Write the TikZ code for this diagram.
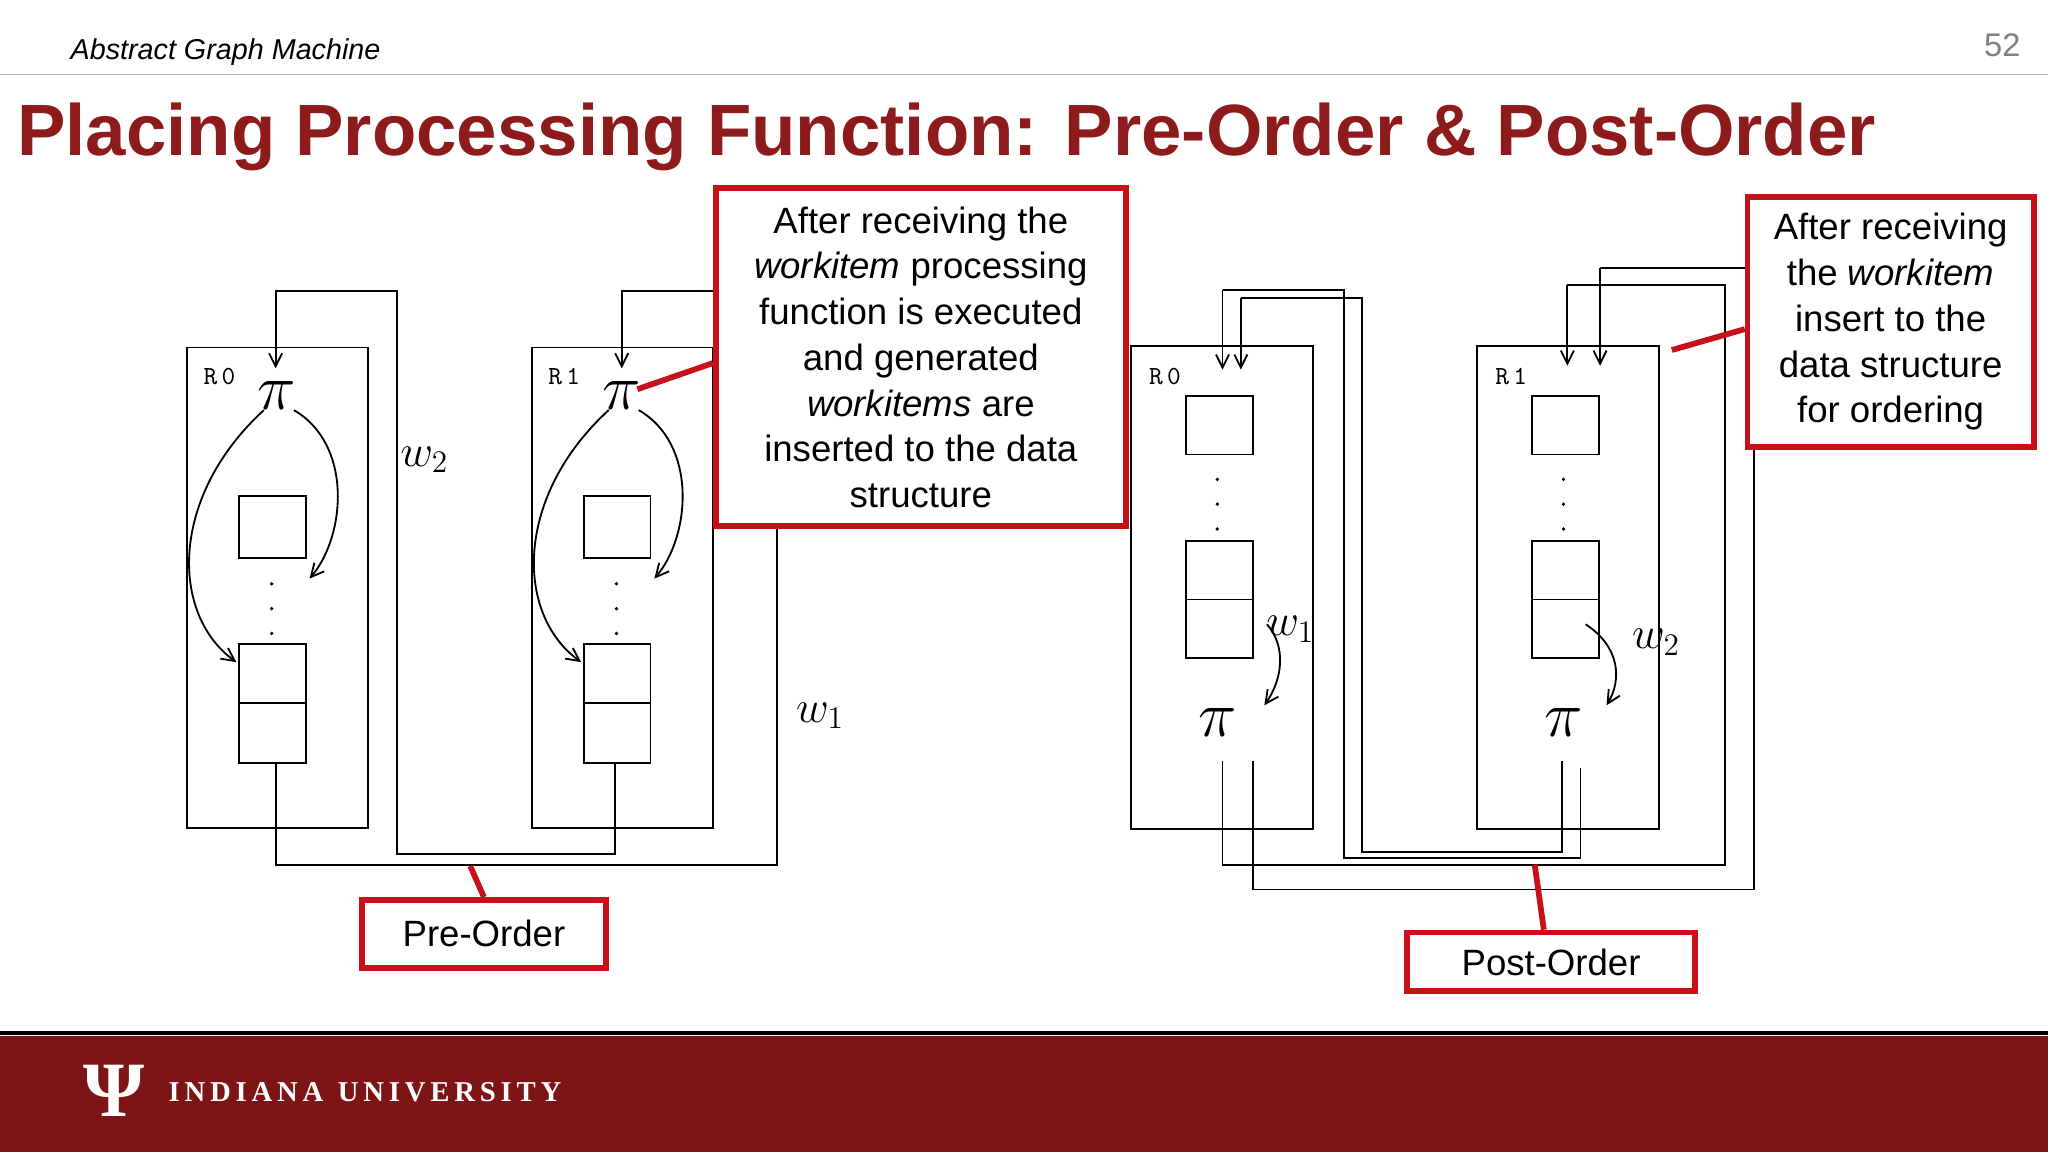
\documentclass[tikz,border=0pt]{standalone}
\usepackage{fontspec}
\setmainfont{Liberation Sans}
\usetikzlibrary{arrows.meta}
\definecolor{iured}{HTML}{7D1416}
\definecolor{tred}{HTML}{8E1B1B}
\definecolor{cred}{HTML}{C8101A}
\tikzset{
 wire/.style={line width=0.7pt},
 arr/.style={wire,-{Straight Barb[length=5pt,width=5pt]}},
 box/.style={draw,line width=0.7pt},
 callout/.style={draw=cred,line width=2.2pt,fill=white,align=center,font=\fontsize{14}{17.5}\selectfont,inner sep=0pt},
 ptr/.style={draw=cred,line width=2.2pt},
 pis/.style={font=\fontsize{26}{26}\selectfont},
 rl/.style={font=\ttfamily\fontsize{10}{10}\selectfont},
 wl/.style={font=\fontsize{18}{18}\selectfont},
 dotc/.style={fill,circle,inner sep=0.5pt}
}
\begin{document}
\begin{tikzpicture}[x=0.5pt,y=-0.5pt]
\useasboundingbox (0,0) rectangle (1568,882);
\fill[white] (0,0) rectangle (1568,882);
% header
\node[anchor=west,font=\itshape\fontsize{11}{11}\selectfont] (hdr) at (47,40) {Abstract Graph Machine};
\node[text=gray,font=\fontsize{12.5}{12.5}\selectfont] (pg) at (1533,35) {52};
\draw[gray!60,line width=0.6pt] (0,57) -- (1568,57);
\node[anchor=west,text=tred,font=\bfseries\fontsize{27.8}{27.8}\selectfont] (title) at (6,105) {Placing Processing Function: Pre-Order \& Post-Order};
% footer
\draw[black,line width=1.5pt] (0,791) -- (1568,791);
\fill[iured] (0,793) rectangle (1568,882);
\node[text=white,font=\fontsize{30}{30}\selectfont,draw=white,line width=0.6pt,draw opacity=0] (logo) at (87,835) {\setmainfont{Liberation Serif}\bfseries Ψ};
\node[anchor=west,text=white,font=\setmainfont{Liberation Serif}\bfseries\fontsize{11}{11}\selectfont] (iu) at (122,836) {I\,N\,D\,I\,A\,N\,A\ \ U\,N\,I\,V\,E\,R\,S\,I\,T\,Y};

% ---------- left (pre-order) ----------
\foreach \dx/\nm in {0/L0,264/L1}{
 \begin{scope}[xshift=\dx*0.5pt]
 \draw[box] (143,266) rectangle (282,634);
 \node[rl] at (168,288) {R\,\ifnum\dx=0 0\else 1\fi};
 \node[pis] (pi\nm) at (212,303) {$\pi$};
 \draw[box] (183,380) rectangle (234,427);
 \foreach \y in {447,466,485} \node[dotc] at (208,\y) {};
 \draw[box] (183,493) rectangle (234,584);
 \draw[wire] (183,538) -- (234,538);
 \draw[arr] (202,314) .. controls (130,380) and (130,470) .. (181,507);
 \draw[arr] (225,314) .. controls (270,340) and (265,410) .. (237,443);
 \end{scope}
}
\draw[arr] (211,584) -- (211,662) -- (595,662) -- (595,223) -- (476,223) -- (476,282);
\draw[arr] (471,584) -- (471,654) -- (304,654) -- (304,223) -- (211,223) -- (211,282);
\node[wl] (w2a) at (325,352) {$w_2$};
\node[wl] (w1a) at (628,548) {$w_1$};

\node[callout,minimum width=314*0.5pt,minimum height=259*0.5pt] (c1) at (705,273.5)
 {After receiving the\\\textit{workitem} processing\\function is executed\\and generated\\\textit{workitems} are\\inserted to the data\\structure};
\draw[ptr] (c1.west |- 0,278) -- (488,298);
\node[callout,minimum width=187*0.5pt,minimum height=52*0.5pt] (pre) at (370.5,715) {Pre-Order};
\draw[ptr] (360,663) -- (pre.north);

% ---------- right (post-order) ----------
\foreach \dx/\nm/\lab in {0/P0/0,265/P1/1}{
 \begin{scope}[xshift=\dx*0.5pt]
 \draw[box] (866,265) rectangle (1005,635);
 \node[rl] at (892,288) {R\,\lab};
 \draw[box] (908,303) rectangle (959,348);
 \foreach \y in {367,386,405} \node[dotc] at (932,\y) {};
 \draw[box] (908,414) rectangle (959,504);
 \draw[wire] (908,459) -- (959,459);
 \node[pis] (pi\nm) at (932,553) {$\pi$};
 \end{scope}
}
\draw[arr] (970,478) .. controls (985,495) and (982,520) .. (968,540);
\draw[arr] (1214,478) .. controls (1240,495) and (1242,520) .. (1230,540);
\node[wl] (w1b) at (988,482) {$w_1$};
\node[wl] (w2b) at (1268,492) {$w_2$};
% wires
\draw[wire] (936,583) -- (936,662) -- (1321,662) -- (1321,218) -- (1200,218);
\draw[arr] (1200,218) -- (1200,280);
\draw[wire] (959,583) -- (959,681) -- (1343,681) -- (1343,205) -- (1225,205);
\draw[arr] (1225,205) -- (1225,280);
\draw[wire] (1196,583) -- (1196,652) -- (1043,652) -- (1043,228) -- (950,228);
\draw[arr] (950,228) -- (950,283);
\draw[wire] (1210,588) -- (1210,657) -- (1029,657) -- (1029,222) -- (936,222);
\draw[arr] (936,222) -- (936,283);

\node[callout,minimum width=219*0.5pt,minimum height=191*0.5pt] (c2) at (1447.5,246.5)
 {After receiving\\the \textit{workitem}\\insert to the\\data structure\\for ordering};
\draw[ptr] (c2.west |- 0,252) -- (1280,268);
\node[callout,minimum width=221*0.5pt,minimum height=45*0.5pt] (post) at (1187.5,736.5) {Post-Order};
\draw[ptr] (1175,662) -- (post.north -| 1182,0);
\end{tikzpicture}
\end{document}
